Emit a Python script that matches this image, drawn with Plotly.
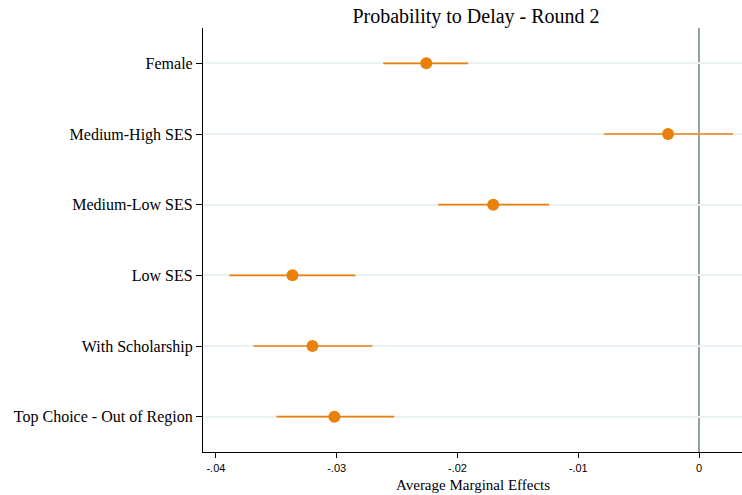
import plotly.graph_objects as go

# Average marginal effects on the probability to delay (round 2)
labels = ["Female", "Medium-High SES", "Medium-Low SES", "Low SES",
          "With Scholarship", "Top Choice - Out of Region"]
effects = [-0.02258, -0.00256, -0.01704, -0.03366, -0.03201, -0.03019]
ci_low = [-0.02614, -0.00786, -0.02159, -0.03888, -0.03689, -0.03499]
ci_high = [-0.01911, 0.00281, -0.01241, -0.02845, -0.02705, -0.02523]

x_ticks = [-0.04, -0.03, -0.02, -0.01, 0]
x_ticktext = ["-.04", "-.03", "-.02", "-.01", "0"]

orange = "#e8800a"

err_plus = [h - e for h, e in zip(ci_high, effects)]
err_minus = [e - l for e, l in zip(effects, ci_low)]

fig = go.Figure()
fig.add_trace(go.Scatter(
    x=effects, y=labels, mode="markers",
    marker=dict(color=orange, size=12),
    error_x=dict(type="data", symmetric=False, array=err_plus,
                 arrayminus=err_minus, color=orange, thickness=1.6, width=0),
    showlegend=False,
))

fig.add_vline(x=0, line=dict(color="#6e8f87", width=1.6), layer="below")

serif = "Liberation Serif, Times New Roman, serif"
sans = "Liberation Sans, Arial, sans-serif"

# x-axis title drawn as an annotation just under the tick labels
fig.add_annotation(
    text="Average Marginal Effects", xref="paper", yref="paper",
    x=0.5, y=-0.0775, xanchor="center", yanchor="middle", showarrow=False,
    font=dict(family=serif, size=15, color="black"),
)

fig.update_layout(
    width=742, height=495,
    margin=dict(l=203, r=0, t=28, b=43),
    paper_bgcolor="white", plot_bgcolor="white",
    title=dict(text="Probability to Delay - Round 2", x=0.6415, xanchor="center",
               y=1 - 16 / 495, yanchor="middle",
               font=dict(family=serif, size=20, color="black")),
    xaxis=dict(
        range=[-0.04107, 0.00356], tickvals=x_ticks, ticktext=x_ticktext,
        showgrid=False, zeroline=False, showline=True, linecolor="black",
        linewidth=1.2, ticks="outside", ticklen=5, tickcolor="black",
        ticklabelstandoff=1,
        tickfont=dict(family=sans, size=11, color="black"),
    ),
    yaxis=dict(
        type="category", categoryorder="array", categoryarray=labels,
        range=[5.5, -0.5], showgrid=True, gridcolor="#eaf1f3", gridwidth=1.5,
        zeroline=False, showline=True, linecolor="black", linewidth=1.2,
        ticks="outside", ticklen=6, tickcolor="black",
        tickfont=dict(family=serif, size=16, color="black"),
    ),
)

fig.write_html("out.html")
